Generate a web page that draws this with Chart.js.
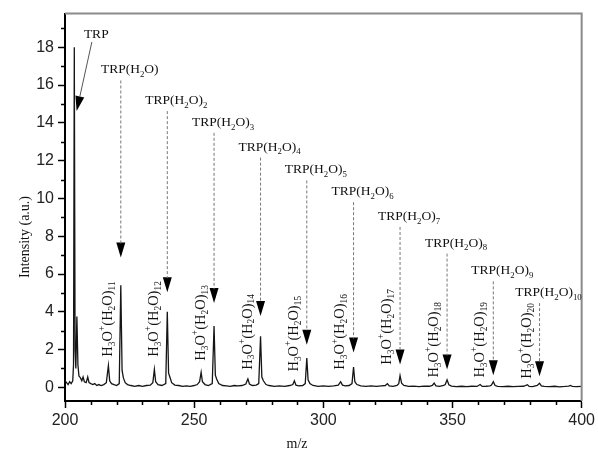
<!DOCTYPE html>
<html>
<head>
<meta charset="utf-8">
<script src="https://cdn.jsdelivr.net/npm/chart.js@4.4.1/dist/chart.umd.min.js"></script>
<style>
  html, body { margin: 0; padding: 0; background: #fff; }
  #spec { display: block; }
</style>
</head>
<body>
<canvas id="spec" width="598" height="451"></canvas>
<script>
// mass spectrum of tryptophan / water clusters, [m/z, intensity]
const spectrum = [
  [200.0, 0.35], [200.6, 0.25], [201.2, 0.15], [201.8, 0.3], [202.4, 0.2], [203.0, 0.35],
  [203.3, 1.2], [203.6, 18.0], [203.9, 2.0], [204.2, 1.0], [204.6, 3.75], [205.0, 1.2],
  [205.4, 0.6], [206.0, 0.5], [206.5, 0.35], [207.0, 0.55], [207.5, 0.3], [208.2, 0.25],
  [208.8, 0.55], [209.3, 0.25], [210.0, 0.2], [210.8, 0.15], [211.5, 0.2], [212.3, 0.1],
  [213.0, 0.15], [214.0, 0.1], [215.0, 0.15], [216.0, 0.25], [216.8, 1.15], [217.3, 0.35],
  [218.0, 0.2], [219.0, 0.15], [220.0, 0.1], [221.0, 0.2], [221.6, 5.4], [222.1, 0.9],
  [222.6, 0.5], [223.3, 0.25], [224.2, 0.15], [225.5, 0.1], [227.0, 0.05], [228.5, 0.1],
  [230.0, 0.05], [231.5, 0.1], [233.0, 0.12], [234.0, 0.25], [234.6, 0.95], [235.1, 0.3],
  [236.0, 0.15], [237.5, 0.1], [239.0, 0.2], [239.6, 4.0], [240.1, 0.75], [240.6, 0.55],
  [241.3, 0.25], [242.5, 0.12], [244.0, 0.1], [245.5, 0.05], [247.0, 0.08], [248.5, 0.05],
  [250.0, 0.1], [251.2, 0.15], [252.1, 0.3], [252.7, 0.8], [253.2, 0.3], [254.2, 0.15],
  [255.5, 0.1], [257.0, 0.2], [257.7, 3.25], [258.2, 0.65], [258.7, 0.45], [259.5, 0.2],
  [261.0, 0.1], [262.5, 0.08], [264.0, 0.05], [265.5, 0.1], [267.0, 0.08], [268.5, 0.1],
  [270.0, 0.18], [270.8, 0.45], [271.4, 0.18], [272.5, 0.1], [274.0, 0.12], [275.0, 0.2],
  [275.7, 2.7], [276.2, 0.55], [276.8, 0.35], [277.8, 0.15], [279.0, 0.1], [281.0, 0.05],
  [283.0, 0.08], [285.0, 0.05], [287.0, 0.1], [288.2, 0.15], [288.8, 0.35], [289.4, 0.12],
  [290.5, 0.08], [292.0, 0.1], [293.0, 0.2], [293.6, 1.55], [294.1, 0.4], [294.8, 0.2],
  [296.0, 0.1], [298.0, 0.05], [300.0, 0.08], [302.0, 0.05], [304.0, 0.08], [305.8, 0.12],
  [306.7, 0.3], [307.4, 0.12], [308.5, 0.08], [310.0, 0.1], [311.1, 0.2], [311.7, 1.08],
  [312.2, 0.3], [313.0, 0.15], [314.5, 0.08], [316.5, 0.05], [318.5, 0.08], [320.5, 0.05],
  [322.5, 0.08], [324.0, 0.1], [324.8, 0.2], [325.5, 0.08], [327.0, 0.05], [328.5, 0.1],
  [329.2, 0.2], [329.7, 0.62], [330.3, 0.22], [331.2, 0.1], [333.0, 0.05], [335.0, 0.07],
  [337.0, 0.04], [339.0, 0.07], [341.0, 0.06], [342.2, 0.1], [342.9, 0.23], [343.6, 0.08],
  [345.0, 0.05], [346.6, 0.1], [347.2, 0.15], [347.9, 0.4], [348.6, 0.14], [349.6, 0.07],
  [351.5, 0.04], [353.5, 0.06], [355.5, 0.04], [357.5, 0.06], [359.5, 0.05], [360.7, 0.15],
  [361.5, 0.05], [363.0, 0.06], [364.5, 0.08], [365.1, 0.12], [365.8, 0.3], [366.5, 0.1],
  [367.5, 0.05], [369.5, 0.04], [371.5, 0.06], [373.5, 0.04], [375.5, 0.05], [377.5, 0.06],
  [379.0, 0.14], [379.7, 0.05], [381.0, 0.04], [382.8, 0.1], [383.7, 0.22], [384.4, 0.08],
  [385.5, 0.05], [387.5, 0.04], [389.5, 0.06], [391.5, 0.03], [393.5, 0.05], [395.0, 0.07],
  [395.6, 0.1], [396.4, 0.05], [398.0, 0.04], [400.0, 0.05]
];

// TRP(H2O)n peaks, n = 1..10, and where their arrows start / end
const trpMz = [221.6, 239.6, 257.7, 275.7, 293.6, 311.7, 329.7, 347.9, 365.8, 383.7];
const trpArrowTop = [16.24, 14.62, 13.47, 12.16, 10.95, 9.8, 8.49, 7.08, 5.61, 4.46];
const trpArrowTip = [6.87, 5.04, 4.46, 3.78, 2.26, 1.84, 1.21, 0.95, 0.64, 0.59];

// H3O+(H2O)n peaks, n = 11..20, label centre height
const h3oMz = [216.8, 234.6, 252.7, 270.8, 288.8, 306.7, 324.8, 342.9, 360.7, 379.0];
const h3oLabelMid = [3.62, 3.62, 3.41, 2.94, 2.84, 2.94, 3.2, 2.52, 2.52, 2.46];

// bare TRP: label and slanted arrow
const trpLabel = [212.1, 18.7];
const trpArrow = [[210.4, 18.28], [204.5, 14.62]];

const xMajor = [200, 250, 300, 350, 400];
const xMinor = [210, 220, 230, 240, 260, 270, 280, 290, 310, 320, 330, 340, 360, 370, 380, 390];
const yMajor = [0, 2, 4, 6, 8, 10, 12, 14, 16, 18];
const yMinor = [1, 3, 5, 7, 9, 11, 13, 15, 17, 19];

const SERIF = '"Liberation Serif", "Times New Roman", serif';
const SANS = '"Liberation Sans", Arial, sans-serif';

// draw text with _{sub} and ^{sup} parts
function richParts(str) {
  const parts = [];
  const re = /([_^])\{([^}]*)\}|([^_^]+)/g;
  let m;
  while ((m = re.exec(str))) {
    if (m[3]) parts.push({ t: m[3], k: 'n' });
    else parts.push({ t: m[2], k: m[1] === '_' ? 'sub' : 'sup' });
  }
  return parts;
}
function richWidth(ctx, parts, size) {
  let w = 0;
  parts.forEach(p => {
    ctx.font = (p.k === 'n' ? size : size * 0.65) + 'px ' + SERIF;
    w += ctx.measureText(p.t).width;
  });
  return w;
}
function drawRich(ctx, str, x, y, size) {
  const parts = richParts(str);
  let cx = x - richWidth(ctx, parts, size) / 2;
  parts.forEach(p => {
    const s = p.k === 'n' ? size : size * 0.65;
    ctx.font = s + 'px ' + SERIF;
    const dy = p.k === 'sub' ? size * 0.28 : p.k === 'sup' ? -size * 0.38 : 0;
    ctx.fillText(p.t, cx, y + dy);
    cx += ctx.measureText(p.t).width;
  });
}
function arrowHead(ctx, x0, y0, x1, y1) {
  const a = Math.atan2(y1 - y0, x1 - x0);
  const len = 15, half = 4.5;
  const bx = x1 - len * Math.cos(a), by = y1 - len * Math.sin(a);
  ctx.beginPath();
  ctx.moveTo(x1, y1);
  ctx.lineTo(bx + half * Math.sin(a), by - half * Math.cos(a));
  ctx.lineTo(bx - half * Math.sin(a), by + half * Math.cos(a));
  ctx.closePath();
  ctx.fill();
  return [bx, by];
}

const decorations = {
  id: 'decorations',
  afterDraw(chart) {
    const { ctx, chartArea: a, scales: { x, y } } = chart;
    ctx.save();

    // frame: gray top/right
    ctx.strokeStyle = '#8a8a8a';
    ctx.lineWidth = 2;
    ctx.beginPath();
    ctx.moveTo(a.left, a.top);
    ctx.lineTo(a.right, a.top);
    ctx.lineTo(a.right, a.bottom);
    ctx.stroke();

    // minor ticks
    ctx.strokeStyle = '#000';
    ctx.lineWidth = 1.5;
    ctx.beginPath();
    xMinor.forEach(v => {
      const px = Math.round(x.getPixelForValue(v)) + 0.5;
      ctx.moveTo(px, a.bottom);
      ctx.lineTo(px, a.bottom + 4);
    });
    yMinor.forEach(v => {
      const py = Math.round(y.getPixelForValue(v)) + 0.5;
      ctx.moveTo(a.left, py);
      ctx.lineTo(a.left - 4, py);
    });
    ctx.stroke();

    ctx.fillStyle = '#111';
    ctx.textBaseline = 'alphabetic';

    // TRP(H2O)n labels with dashed arrows
    trpMz.forEach((mz, i) => {
      const px = x.getPixelForValue(mz);
      const top = y.getPixelForValue(trpArrowTop[i]);
      const tip = y.getPixelForValue(trpArrowTip[i]);
      ctx.fillStyle = '#000';
      arrowHead(ctx, px, top, px, tip);
      ctx.strokeStyle = '#777';
      ctx.lineWidth = 1;
      ctx.setLineDash([3, 2]);
      ctx.beginPath();
      ctx.moveTo(px, top);
      ctx.lineTo(px, tip - 14);
      ctx.stroke();
      ctx.setLineDash([]);
      ctx.fillStyle = '#111';
      const n = i + 1;
      const txt = n === 1 ? 'TRP(H_{2}O)' : 'TRP(H_{2}O)_{' + n + '}';
      drawRich(ctx, txt, px + 9, top - 7, 13.5);
    });

    // bare TRP
    const p0 = [x.getPixelForValue(trpArrow[0][0]), y.getPixelForValue(trpArrow[0][1])];
    const p1 = [x.getPixelForValue(trpArrow[1][0]), y.getPixelForValue(trpArrow[1][1])];
    ctx.fillStyle = '#000';
    const base = arrowHead(ctx, p0[0], p0[1], p1[0], p1[1]);
    ctx.strokeStyle = '#555';
    ctx.lineWidth = 1;
    ctx.beginPath();
    ctx.moveTo(p0[0], p0[1]);
    ctx.lineTo(base[0], base[1]);
    ctx.stroke();
    ctx.fillStyle = '#111';
    ctx.textBaseline = 'middle';
    drawRich(ctx, 'TRP', x.getPixelForValue(trpLabel[0]), y.getPixelForValue(trpLabel[1]), 13.5);

    // H3O+(H2O)n labels, rotated
    h3oMz.forEach((mz, i) => {
      ctx.save();
      ctx.translate(x.getPixelForValue(mz), y.getPixelForValue(h3oLabelMid[i]));
      ctx.rotate(-Math.PI / 2);
      ctx.textBaseline = 'middle';
      drawRich(ctx, 'H_{3}O^{+}(H_{2}O)_{' + (i + 11) + '}', 0, 0, 14.5);
      ctx.restore();
    });

    // axis titles
    ctx.textBaseline = 'middle';
    ctx.textAlign = 'center';
    ctx.font = '14px ' + SERIF;
    ctx.fillText('m/z', 297, 444);
    ctx.save();
    ctx.translate(25, 237);
    ctx.rotate(-Math.PI / 2);
    ctx.fillText('Intensity (a.u.)', 0, 0);
    ctx.restore();

    ctx.restore();
  }
};

new Chart(document.getElementById('spec'), {
  type: 'scatter',
  data: {
    datasets: [{
      data: spectrum.map(p => ({ x: p[0], y: p[1] })),
      showLine: true,
      borderColor: '#151515',
      borderWidth: 1.3,
      pointRadius: 0,
      tension: 0
    }]
  },
  options: {
    responsive: false,
    animation: false,
    devicePixelRatio: 1,
    layout: { padding: { top: 10, right: 11, left: 0, bottom: 0 } },
    plugins: { legend: { display: false }, tooltip: { enabled: false } },
    scales: {
      x: {
        type: 'linear',
        min: 200,
        max: 400,
        afterBuildTicks: s => { s.ticks = xMajor.map(v => ({ value: v })); },
        afterFit: s => { s.height = 50; },
        grid: { drawOnChartArea: false, color: '#000', tickLength: 7, tickWidth: 1.5 },
        border: { color: '#000', width: 2 },
        ticks: { color: '#222', font: { family: SANS, size: 16 }, padding: 3, maxRotation: 0 }
      },
      y: {
        min: -0.72,
        max: 19.78,
        afterBuildTicks: s => { s.ticks = yMajor.map(v => ({ value: v })); },
        afterFit: s => { s.width = 65; },
        grid: { drawOnChartArea: false, color: '#000', tickLength: 7, tickWidth: 1.5 },
        border: { color: '#000', width: 2 },
        ticks: { color: '#222', font: { family: SANS, size: 16 }, padding: 4 }
      }
    }
  },
  plugins: [decorations]
});
</script>
</body>
</html>
